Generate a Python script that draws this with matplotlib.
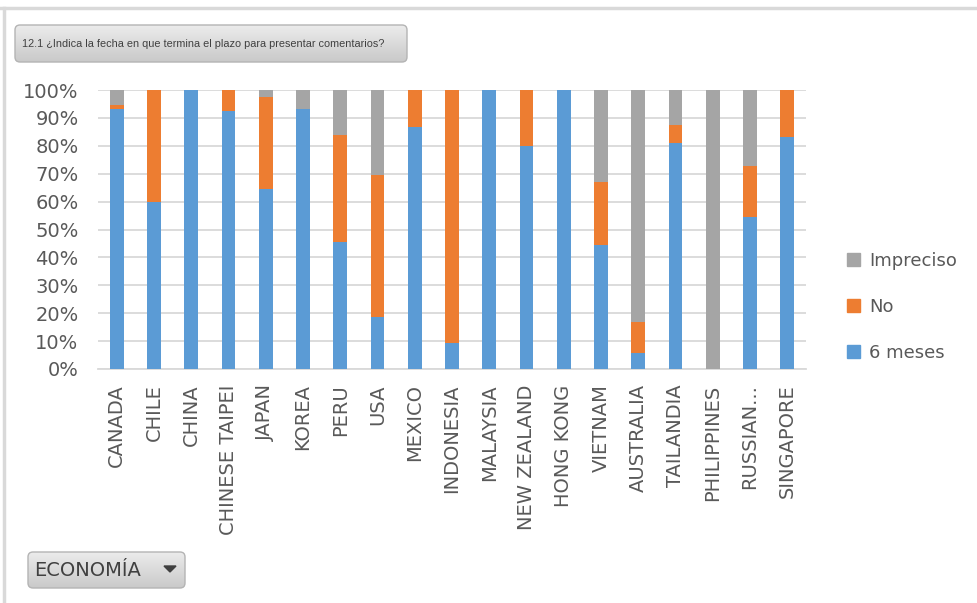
import numpy as np
import matplotlib
matplotlib.use("Agg")
from matplotlib import pyplot as plt
from matplotlib.patches import FancyBboxPatch, Patch, Polygon
from matplotlib.lines import Line2D
from matplotlib.font_manager import FontProperties

W, H = 977, 603

categories = ["CANADA", "CHILE", "CHINA", "CHINESE TAIPEI", "JAPAN", "KOREA", "PERU",
              "USA", "MEXICO", "INDONESIA", "MALAYSIA", "NEW ZEALAND", "HONG KONG",
              "VIETNAM", "AUSTRALIA", "TAILANDIA", "PHILIPPINES", "RUSSIAN...", "SINGAPORE"]
seis_meses = [93.2, 60.0, 100, 92.6, 64.5, 93.2, 45.6, 18.5, 86.7, 9.3, 100, 79.8, 100,
              44.4, 5.6, 81.0, 0, 54.5, 83.3]
no = [1.3, 40.0, 0, 7.4, 33.1, 0, 38.3, 51.0, 13.3, 90.7, 0, 20.2, 0,
      22.5, 11.2, 6.6, 0, 18.3, 16.7]
impreciso = [5.5, 0, 0, 0, 2.4, 6.8, 16.1, 30.5, 0, 0, 0, 0, 0,
             33.1, 83.2, 12.4, 100, 27.2, 0]

title = "12.1 ¿Indica la fecha en que termina el plazo para presentar comentarios?"
c_blue, c_orange, c_gray = "#5B9BD5", "#ED7D31", "#A5A5A5"
txt = "#595959"

plt.rcParams['font.family'] = ['DejaVu Sans']
dv = FontProperties(family="DejaVu Sans", size=14)


def fx(px):
    return px / W


def fy(py):
    return 1 - py / H


fig = plt.figure(figsize=(W / 100, H / 100), dpi=100)

# marco exterior
fig.add_artist(Line2D([fx(0), fx(W)], [fy(8), fy(8)], color="#d9d9d9", lw=2.5))
fig.add_artist(Line2D([fx(4), fx(4)], [fy(8), fy(H)], color="#d9d9d9", lw=2.5))

# grafico
ax = fig.add_axes([fx(98), fy(369), fx(806) - fx(98), fy(90) - fy(369)])
x = np.arange(len(categories))
s = np.array(seis_meses)
n = np.array(no)
im = np.array(impreciso)
bw = 0.37
ax.bar(x, s, bw, color=c_blue, label="6 meses", zorder=3)
ax.bar(x, n, bw, bottom=s, color=c_orange, label="No", zorder=3)
ax.bar(x, im, bw, bottom=s + n, color=c_gray, label="Impreciso", zorder=3)

ax.set_xlim(-0.5, len(categories) - 0.5)
ax.set_ylim(0, 100)
ax.set_yticks(np.arange(0, 101, 10))
ax.set_yticklabels([f"{v}%" for v in range(0, 101, 10)], fontproperties=dv)
ax.set_xticks(x)
ax.set_xticklabels(categories, rotation=90, fontproperties=dv)
ax.grid(axis="y", color="#d9d9d9", lw=1.3, zorder=0)
for sp in ["top", "right", "left"]:
    ax.spines[sp].set_visible(False)
ax.spines["bottom"].set_color("#d9d9d9")
ax.spines["bottom"].set_linewidth(1.3)
ax.tick_params(axis="y", length=0, pad=14, labelcolor=txt)
ax.tick_params(axis="x", length=0, pad=11, labelcolor=txt)

# leyenda
handles = [Patch(color=c_gray), Patch(color=c_orange), Patch(color=c_blue)]
fig.legend(handles, ["Impreciso", "No", "6 meses"], loc="center left",
           bbox_to_anchor=(fx(831), fy(307)), frameon=False,
           prop=FontProperties(family="DejaVu Sans", size=13),
           labelcolor=txt, handlelength=0.7, handleheight=0.7, handletextpad=0.5,
           labelspacing=1.55)

# caja del titulo con degradado
tax = fig.add_axes([0, 0, 1, 1], zorder=5)
tax.set_xlim(0, W)
tax.set_ylim(H, 0)
tax.axis("off")


def gray_box(x0, y0, x1, y1, top_col, bot_col):
    box = FancyBboxPatch((x0, y0), x1 - x0, y1 - y0,
                         boxstyle="round,pad=0,rounding_size=5",
                         fc="none", ec="#b4b4b4", lw=1)
    tax.add_patch(box)
    grad = np.linspace(0, 1, 64)[:, None]
    c0 = np.array(matplotlib.colors.to_rgb(top_col))
    c1 = np.array(matplotlib.colors.to_rgb(bot_col))
    img = c0 + (c1 - c0) * grad[..., None]
    g = tax.imshow(np.repeat(img, 2, axis=1), extent=(x0, x1, y1, y0),
                   aspect="auto", zorder=0)
    g.set_clip_path(box)


gray_box(15, 25, 407, 62, "#ececec", "#c9c9c9")
tax.text(22, 44, title, color="#404040", va="center", ha="left",
         fontproperties=FontProperties(family="Liberation Sans", size=7.8))

gray_box(28, 552, 185, 588, "#ececec", "#c9c9c9")
tax.text(34, 571, "ECONOMÍA", color="#404040", va="center", ha="left",
         fontproperties=dv)
tax.add_patch(Polygon([[164, 566], [176, 566], [170, 572]], closed=True,
                      color="#404040"))
tax.set_xlim(0, W)
tax.set_ylim(H, 0)

fig.savefig("out.png", dpi=100)
